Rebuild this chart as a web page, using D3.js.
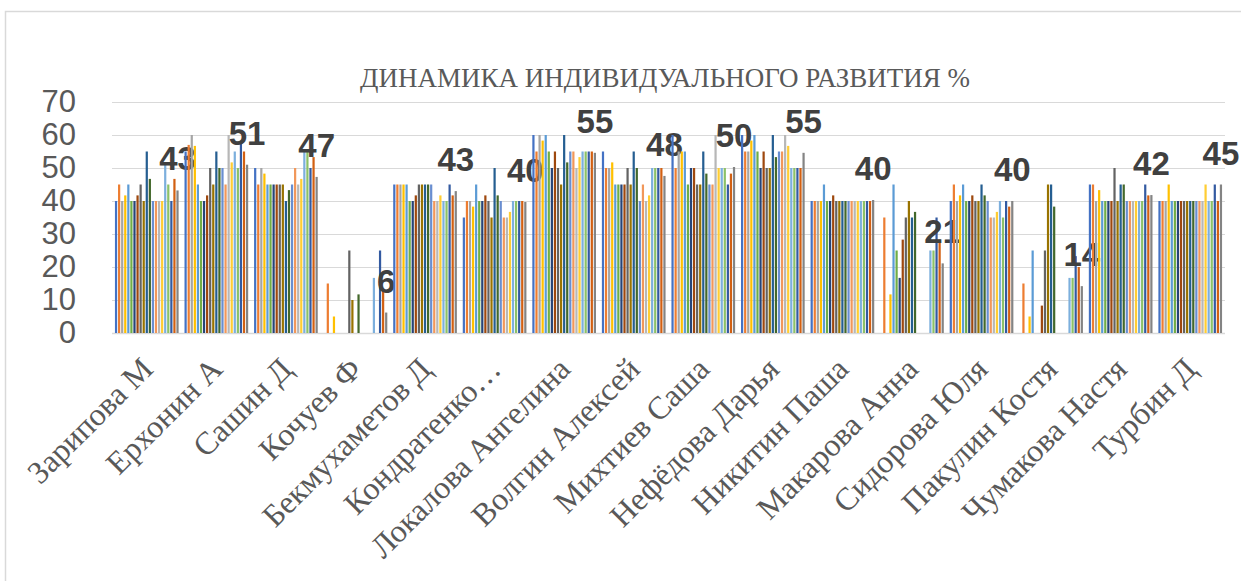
<!DOCTYPE html>
<html>
<head>
<meta charset="utf-8">
<script src="https://cdn.jsdelivr.net/npm/d3@7"></script>
<style>
  body { margin: 0; background: #fff; }
  svg { display: block; }
</style>
</head>
<body>
<svg id="chart"></svg>
<script>
var width = 1241;
var height = 581;

var students = ["Зарипова М", "Ерхонин А", "Сашин Д", "Кочуев Ф", "Бекмухаметов Д",
  "Кондратенко…", "Локалова Ангелина", "Волгин Алексей", "Михтиев Саша", "Нефёдова Дарья",
  "Никитин Паша", "Макарова Анна", "Сидорова Юля", "Пакулин Костя", "Чумакова Настя", "Турбин Д"];

// 20 measurements per student (0 = no bar)
var scores = [
  [40, 45, 40, 41.7, 45, 40, 40, 41.7, 45, 40, 55, 46.7, 40, 40, 40, 40, 51.7, 45, 40, 46.7],
  [55, 57, 60, 56.7, 45, 40, 40, 41.7, 50, 45, 55, 50, 50, 45, 60, 51.7, 55, 50, 58.3, 55],
  [50, 45, 50, 48.3, 45, 45, 45, 45, 45, 45, 40, 43.3, 45, 50, 45, 46.7, 55, 55, 50, 53.3],
  [0, 15, 0, 5, 0, 0, 0, 0, 25, 10, 0, 11.7, 0, 0, 0, 0, 16.7, 0, 25, 13.3],
  [45, 45, 45, 45, 45, 40, 40, 41.7, 45, 45, 45, 45, 45, 40, 40, 41.7, 40, 40, 45, 41.7],
  [35, 40, 40, 38.3, 45, 40, 40, 41.7, 40, 35, 50, 41.7, 40, 35, 35, 36.7, 40, 40, 40, 40],
  [60, 55, 60, 58.3, 60, 55, 50, 55, 50, 45, 60, 51.7, 55, 55, 50, 53.3, 55, 55, 55, 55],
  [55, 50, 50, 51.7, 45, 45, 45, 45, 50, 45, 55, 50, 40, 45, 40, 41.7, 50, 50, 50, 50],
  [60, 50, 55, 55, 55, 45, 50, 50, 45, 45, 55, 48.3, 45, 45, 60, 50, 50, 50, 45, 48.3],
  [60, 55, 55, 58.3, 60, 55, 50, 55, 50, 50, 60, 53.3, 55, 55, 60, 56.7, 50, 50, 50, 50],
  [40, 40, 40, 40, 45, 40, 40, 41.7, 40, 40, 40, 40, 40, 40, 40, 40, 40, 40, 40, 40],
  [0, 35, 0, 11.7, 45, 25, 16.7, 28.3, 35, 40, 35, 36.7, 0, 0, 0, 0, 25, 25, 35, 28.3],
  [40, 45, 40, 41.7, 45, 40, 40, 41.7, 40, 40, 45, 41.7, 40, 35, 35, 36.7, 40, 35, 40, 38.3],
  [0, 15, 0, 5, 25, 0, 0, 8.3, 25, 45, 45, 38.3, 0, 0, 0, 0, 16.7, 16.7, 23.3, 20],
  [45, 45, 40, 43.3, 40, 40, 40, 40, 50, 40, 45, 45, 40, 40, 40, 40, 40, 40, 45, 41.7],
  [40, 40, 40, 45, 40, 40, 40, 40, 40, 40, 40, 40, 40, 40, 40, 45, 40, 40, 45, 40]
];

// last series, the one with the labels
var totals = [43.2, 51, 47.3, 6.2, 43, 39.7, 54.6, 47.6, 50.3, 54.6, 40.3, 21.1, 40, 14.2, 41.8, 45];

var colors = ["#4472C4", "#ED7D31", "#A5A5A5", "#FFC000", "#5B9BD5", "#70AD47",
  "#264478", "#9E480E", "#636363", "#997300", "#255E91", "#43682B",
  "#698ED0", "#F1975A", "#B7B7B7", "#FFCD33", "#7CAFDD", "#8CC168",
  "#335AA1", "#D26012", "#848484"];

var yTicks = [0, 10, 20, 30, 40, 50, 60, 70];

var svg = d3.select('#chart')
  .attr('width', width)
  .attr('height', height);

// chart border
svg.append('rect')
  .attr('x', 5.5).attr('y', 11.5)
  .attr('width', 1400).attr('height', 800)
  .attr('fill', 'none')
  .attr('stroke', '#d9d9d9')
  .attr('stroke-width', 1.5);

var x0 = d3.scaleBand()
  .domain(students)
  .range([112, 1225])
  .paddingInner(0.06)
  .paddingOuter(0.03);

var x1 = d3.scaleBand()
  .domain(d3.range(21))
  .range([0, x0.bandwidth()])
  .padding(0.28);

var y = d3.scaleLinear()
  .domain([0, 70])
  .range([333, 102]);

// gridlines
svg.append('g')
  .selectAll('line')
  .data(yTicks)
  .enter().append('line')
  .attr('x1', 112).attr('x2', 1225)
  .attr('y1', function (d) { return y(d) + 0.5; })
  .attr('y2', function (d) { return y(d) + 0.5; })
  .attr('stroke', '#d9d9d9')
  .attr('stroke-width', function (d) { return d === 0 ? 1.5 : 1; });

// y axis labels
var yAxis = svg.append('g')
  .attr('transform', 'translate(112,0)')
  .call(d3.axisLeft(y).tickValues(yTicks).tickSize(0).tickPadding(36));
yAxis.select('.domain').remove();
yAxis.selectAll('text')
  .attr('font-family', 'Liberation Sans, Arial, sans-serif')
  .attr('font-size', 31)
  .attr('fill', '#595959');

// bars
var groups = svg.append('g')
  .selectAll('g')
  .data(students)
  .enter().append('g')
  .attr('transform', function (d) { return 'translate(' + x0(d) + ',0)'; });

groups.selectAll('rect')
  .data(function (d, i) { return scores[i].concat([totals[i]]); })
  .enter().append('rect')
  .attr('x', function (d, k) { return x1(k); })
  .attr('width', x1.bandwidth())
  .attr('y', function (d) { return y(d); })
  .attr('height', function (d) { return y(0) - y(d); })
  .attr('fill', function (d, k) { return colors[k]; });

// data labels on the last series
groups.append('text')
  .attr('x', x1(20) + x1.bandwidth() / 2)
  .attr('y', function (d, i) { return y(totals[i]) - 20; })
  .attr('text-anchor', 'middle')
  .attr('font-family', 'Liberation Sans, Arial, sans-serif')
  .attr('font-weight', 'bold')
  .attr('font-size', 33)
  .attr('fill', '#404040')
  .text(function (d, i) { return Math.round(totals[i]); });

// category labels
svg.append('g')
  .selectAll('text')
  .data(students)
  .enter().append('text')
  .attr('transform', function (d) {
    return 'translate(' + (x0(d) + x0.bandwidth() / 2 + 8) + ',371) rotate(-45)';
  })
  .attr('text-anchor', 'end')
  .attr('font-family', 'Liberation Serif, Times New Roman, serif')
  .attr('font-size', 32)
  .attr('fill', '#595959')
  .text(function (d) { return d; });

// title
svg.append('text')
  .attr('x', 665)
  .attr('y', 87)
  .attr('text-anchor', 'middle')
  .attr('font-family', 'Liberation Serif, Times New Roman, serif')
  .attr('font-size', 27)
  .attr('fill', '#595959')
  .text('ДИНАМИКА ИНДИВИДУАЛЬНОГО РАЗВИТИЯ %');
</script>
</body>
</html>
